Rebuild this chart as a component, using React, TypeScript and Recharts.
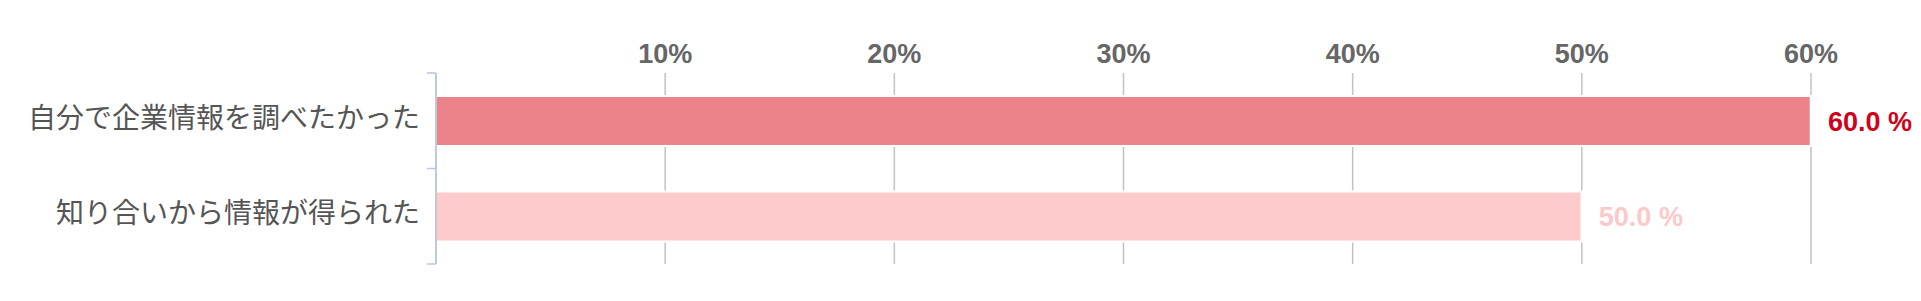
import React from "react";
import { BarChart, Bar, XAxis, YAxis, CartesianGrid, LabelList, Cell } from "recharts";

const categories = ["自分で企業情報を調べたかった", "知り合いから情報が得られた"];
const values = [60.0, 50.0];
const xTicks = [10, 20, 30, 40, 50, 60];
const barColors = ["#ec838b", "#fdcbcb"];
const labelColors = ["#d0021b", "#fcc9ca"];
const axisColor = "#b8c7db";

const data = categories.map((name, i) => ({ name, value: values[i], idx: i }));

const CategoryTick = (props: any) => {
  const { x, y, payload, index, visibleTicksCount } = props;
  const half = payload && payload.offset ? payload.offset : 0;
  const axisX = x + 16;
  const last = index === (visibleTicksCount ?? categories.length) - 1;
  return (
    <g>
      <line x1={axisX - 9} x2={axisX} y1={y - half} y2={y - half} stroke={axisColor} strokeWidth={1.5} />
      {last && (
        <line x1={axisX - 9} x2={axisX} y1={y + half} y2={y + half} stroke={axisColor} strokeWidth={1.5} />
      )}
      <text
        x={x}
        y={y}
        dy={7}
        textAnchor="end"
        fill="#555"
        fontSize={28}
        fontFamily="'Noto Sans CJK JP', 'Noto Sans', sans-serif"
      >
        {payload.value}
      </text>
    </g>
  );
};

const HaloBar = (props: any) => {
  const { x, y, width, height, fill } = props;
  if (width == null || height == null) return null;
  return (
    <g>
      <rect x={x + 1} y={y - 2} width={Math.max(width + 1, 0)} height={height + 4} fill="#fff" />
      <rect x={x + 1} y={y} width={Math.max(width - 2.3, 0)} height={height} fill={fill} />
    </g>
  );
};

const ValueLabel = (props: any) => {
  const { x, y, width, height, value, index } = props;
  return (
    <text
      x={x + width + 17}
      y={y + height / 2}
      dy={9.5}
      textAnchor="start"
      fill={labelColors[index]}
      fontSize={27}
      fontWeight="bold"
      fontFamily="'Liberation Sans', Arial, sans-serif"
    >
      {`${Number(value).toFixed(1)} %`}
    </text>
  );
};

export default function App() {
  return (
    <BarChart
      width={1905}
      height={285}
      data={data}
      layout="vertical"
      margin={{ top: 0, right: 102, bottom: 29, left: 0 }}
      barSize={48}
    >
      <CartesianGrid horizontal={false} vertical stroke="#c2c2c2" strokeWidth={1.5} />
      <XAxis
        type="number"
        orientation="top"
        domain={[0, 60]}
        ticks={xTicks}
        tickFormatter={(v: number) => `${v}%`}
        axisLine={false}
        tickLine={false}
        tickSize={0}
        tickMargin={10}
        height={65}
        tick={{ fill: "#666", fontSize: 27, fontWeight: "bold", fontFamily: "'Liberation Sans', Arial, sans-serif" }}
      />
      <YAxis
        type="category"
        dataKey="name"
        width={428}
        axisLine={{ stroke: axisColor, strokeWidth: 1.5 }}
        tickLine={false}
        tickSize={0}
        tickMargin={16}
        tick={<CategoryTick />}
      />
      <Bar dataKey="value" isAnimationActive={false} shape={<HaloBar />}>
        {data.map((d, i) => (
          <Cell key={d.name} fill={barColors[i]} />
        ))}
        <LabelList dataKey="value" content={<ValueLabel />} />
      </Bar>
    </BarChart>
  );
}
